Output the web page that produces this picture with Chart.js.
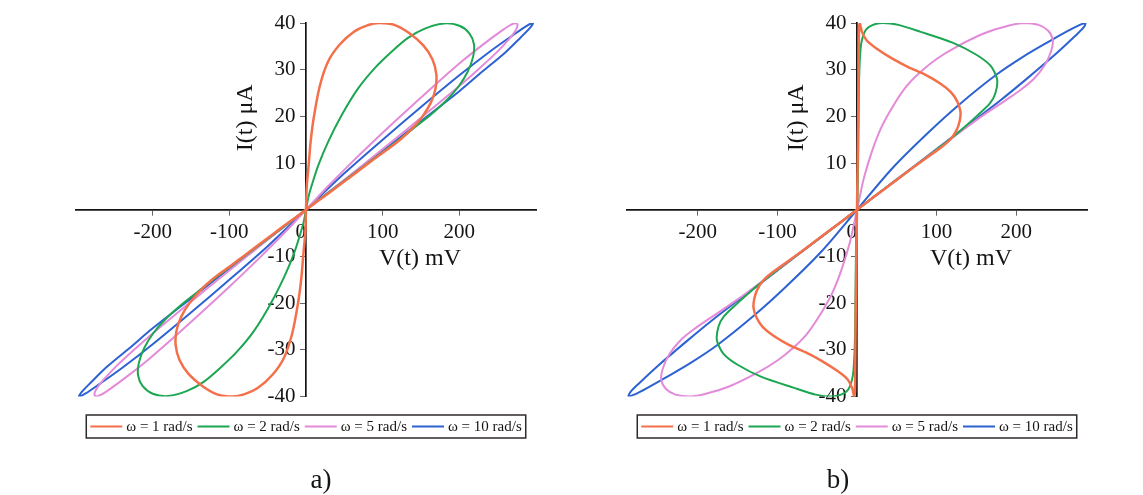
<!DOCTYPE html>
<html>
<head>
<meta charset="utf-8">
<script src="https://cdn.jsdelivr.net/npm/chart.js@4"></script>
<style>
  html, body { margin: 0; padding: 0; background: #fff; }
  #wrap { position: relative; width: 1143px; height: 495px; }
  .panel { position: absolute; top: 0; }
  #chartA { left: 0; }
  #chartB { left: 571px; }
</style>
</head>
<body>
<div id="wrap">
  <canvas id="chartA" class="panel" width="571" height="495"></canvas>
  <canvas id="chartB" class="panel" width="572" height="495"></canvas>
</div>
<script>
// legend entries and line colours, shared by both panels
const seriesLabels = ['ω = 1 rad/s', 'ω = 2 rad/s', 'ω = 5 rad/s', 'ω = 10 rad/s'];
const seriesColors = ['#f3704a', '#1ca652', '#e38ad9', '#2d62d2'];
const seriesWidths = [2.5, 2, 2, 2];

const xTicks = [-200, -100, 0, 100, 200];
const yTicks = [-40, -30, -20, -10, 10, 20, 30, 40];

// panel a) — [V mV, I µA], first-quadrant lobe then third-quadrant lobe
const aW1Pos = [[0,0],[1,5],[3.5,9.6],[6,14.5],[10,19.6],[18,26.5],[29,31.8],[44,35.4],[63,38.2],[80,39.5],[96,40],[115,39.6],[134,37.9],[153,35.2],[165,32.2],[170,29],[169,26],[163,23],[152,20],[138,17.3],[122,14.9],[105,12.8],[85,10.4],[60,7.3],[30,3.6],[0,0]];
const aW1Neg = [[-30,-3.6],[-60,-7.3],[-85,-10.4],[-105,-12.8],[-122,-14.9],[-138,-17.3],[-152,-20],[-163,-23],[-169,-26],[-170,-29],[-165,-32.2],[-153,-35.2],[-134,-37.9],[-115,-39.6],[-96,-40],[-80,-39.5],[-63,-38.2],[-44,-35.4],[-29,-31.8],[-18,-26.5],[-10,-19.6],[-6,-14.5],[-3.5,-9.6],[-1,-5],[0,0]];

const aW2Pos = [[0,0],[3,2.6],[8,5.5],[16,9.5],[29,14.6],[47,20.4],[68,26],[90,30.4],[112,33.9],[133,36.8],[155,38.8],[180,39.9],[200,39.4],[213,37.8],[219,35.5],[218,32.8],[211,29.6],[199,26.4],[183,23.4],[163,20.4],[140,17.4],[115,14.2],[88,10.9],[58,7.2],[28,3.5],[0,0]];
const aW2Neg = [[-28,-3.5],[-58,-7.2],[-88,-10.9],[-115,-14.2],[-140,-17.4],[-163,-20.4],[-183,-23.4],[-199,-26.4],[-211,-29.6],[-218,-32.8],[-219,-35.5],[-213,-37.8],[-200,-39.4],[-180,-39.9],[-155,-38.8],[-133,-36.8],[-112,-33.9],[-90,-30.4],[-68,-26],[-47,-20.4],[-29,-14.6],[-16,-9.5],[-8,-5.5],[-3,-2.6],[0,0]];

const aW5Pos = [[0,0],[25,4.4],[60,10.2],[100,16.5],[135,21.8],[170,27],[205,32],[235,35.9],[255,38.3],[267,39.6],[274,40],[276,39.5],[273,38.3],[264,36.4],[248,33.6],[225,30.1],[200,26.5],[150,19.7],[100,13],[50,6.4],[0,0]];
const aW5Neg = [[-50,-6.4],[-100,-13],[-150,-19.7],[-200,-26.5],[-225,-30.1],[-248,-33.6],[-264,-36.4],[-273,-38.3],[-276,-39.5],[-274,-40],[-267,-39.6],[-255,-38.3],[-235,-35.9],[-205,-32],[-170,-27],[-135,-21.8],[-100,-16.5],[-60,-10.2],[-25,-4.4],[0,0]];

const aW10Pos = [[0,0],[50,7.8],[100,15],[150,22],[200,28.8],[240,33.9],[270,37.4],[288,39.4],[296,40],[293,39.1],[280,36.9],[260,33.7],[230,29.6],[200,25.4],[150,19],[100,12.6],[50,6.3],[0,0]];
const aW10Neg = [[-50,-6.3],[-100,-12.6],[-150,-19],[-200,-25.4],[-230,-29.6],[-260,-33.7],[-280,-36.9],[-293,-39.1],[-296,-40],[-288,-39.4],[-270,-37.4],[-240,-33.9],[-200,-28.8],[-150,-22],[-100,-15],[-50,-7.8],[0,0]];

// panel b)
const bW1Pos = [[0,0],[0.8,10],[1.5,20],[2,30],[2.3,36],[2.6,39],[3.5,40],[6,38.2],[12,36.3],[24,34.6],[45,32.3],[65,30.5],[85,29],[105,27],[118,25.2],[126,23.2],[130,21],[129,19],[125,17],[117,15],[106,13.4],[92,11.7],[70,9],[45,5.8],[20,2.6],[0,0]];
const bW1Neg = [[-20,-2.6],[-45,-5.8],[-70,-9],[-92,-11.7],[-106,-13.4],[-117,-15],[-125,-17],[-129,-19],[-130,-21],[-126,-23.2],[-118,-25.2],[-105,-27],[-85,-29],[-65,-30.5],[-45,-32.3],[-24,-34.6],[-12,-36.3],[-6,-38.2],[-3.5,-40],[-2.6,-39],[-2.3,-36],[-2,-30],[-1.5,-20],[-0.8,-10],[0,0]];

const bW2Pos = [[0,0],[1,5],[1.5,12],[2,20],[2.5,27],[3.5,32],[5.5,35.8],[11,38.5],[20,39.6],[32,40],[52,39.6],[80,38.1],[120,35.8],[150,33.2],[168,30.8],[176,28],[174,25],[167,22.8],[150,20],[133,17.4],[117,15.1],[100,12.9],[60,7.7],[30,3.9],[0,0]];
const bW2Neg = [[-30,-3.9],[-60,-7.7],[-100,-12.9],[-117,-15.1],[-133,-17.4],[-150,-20],[-167,-22.8],[-174,-25],[-176,-28],[-168,-30.8],[-150,-33.2],[-120,-35.8],[-80,-38.1],[-52,-39.6],[-32,-40],[-20,-39.6],[-11,-38.5],[-5.5,-35.8],[-3.5,-32],[-2.5,-27],[-2,-20],[-1.5,-12],[-1,-5],[0,0]];

const bW5Pos = [[0,0],[4,3.2],[9,7],[19,12.6],[31,17.8],[46,22.4],[62,26.4],[79,29.4],[100,32.3],[125,34.9],[160,37.8],[190,39.4],[210,40],[228,39.6],[240,38.4],[246,36.4],[244,34],[236,31],[222,28],[205,25.6],[188,23.6],[150,19.2],[100,12.9],[50,6.4],[0,0]];
const bW5Neg = [[-50,-6.4],[-100,-12.9],[-150,-19.2],[-188,-23.6],[-205,-25.6],[-222,-28],[-236,-31],[-244,-34],[-246,-36.4],[-240,-38.4],[-228,-39.6],[-210,-40],[-190,-39.4],[-160,-37.8],[-125,-34.9],[-100,-32.3],[-79,-29.4],[-62,-26.4],[-46,-22.4],[-31,-17.8],[-19,-12.6],[-9,-7],[-4,-3.2],[0,0]];

const bW10Pos = [[0,0],[45,9],[90,16.6],[129,22.6],[175,28.9],[210,32.9],[240,35.9],[265,38.3],[280,39.6],[287,40],[285,39.1],[274,37.2],[250,33.4],[215,28.3],[180,23.4],[140,18.2],[100,13],[50,6.5],[0,0]];
const bW10Neg = [[-50,-6.5],[-100,-13],[-140,-18.2],[-180,-23.4],[-215,-28.3],[-250,-33.4],[-274,-37.2],[-285,-39.1],[-287,-40],[-280,-39.6],[-265,-38.3],[-240,-35.9],[-210,-32.9],[-175,-28.9],[-129,-22.6],[-90,-16.6],[-45,-9],[0,0]];

const SERIF = '"Liberation Serif", "Times New Roman", serif';
const INK = '#161413';

const toPoints = (pos, neg) => pos.concat(neg).map(([x, y]) => ({ x, y }));

function makeDatasets(loops, tensions) {
  return loops.map(([pos, neg], i) => ({
    label: seriesLabels[i],
    data: toPoints(pos, neg),
    showLine: true,
    borderColor: seriesColors[i],
    backgroundColor: seriesColors[i],
    borderWidth: seriesWidths[i],
    pointRadius: 0,
    tension: tensions[i],
    fill: false
  }));
}

// axis titles, boxed legend and the panel tag
const frame = {
  id: 'frame',
  afterDraw(chart, args, opts) {
    const { ctx, scales: { x, y } } = chart;
    const x0 = x.getPixelForValue(0);
    const y0 = y.getPixelForValue(0);
    ctx.save();
    ctx.fillStyle = INK;
    ctx.textAlign = 'center';
    ctx.textBaseline = 'middle';
    ctx.font = '24px ' + SERIF;
    ctx.fillText('V(t) mV', x0 + 114, y0 + 49);
    ctx.save();
    ctx.translate(x0 - 60, y0 - 92);
    ctx.rotate(-Math.PI / 2);
    ctx.fillText('I(t) μA', 0, 0);
    ctx.restore();

    ctx.font = '15px ' + SERIF;
    const sets = chart.data.datasets;
    const swatch = 32, gapA = 4, gapB = 5, pad = 4, top = 415, h = 23;
    const widths = sets.map(d => ctx.measureText(d.label).width);
    const total = pad * 2 + widths.reduce((s, w) => s + swatch + gapA + w, 0) + gapB * (sets.length - 1);
    let lx = x0 - total / 2;
    ctx.strokeStyle = '#2f2a28';
    ctx.lineWidth = 1.5;
    ctx.strokeRect(lx, top, total, h);
    lx += pad;
    ctx.textAlign = 'left';
    sets.forEach((d, i) => {
      ctx.strokeStyle = d.borderColor;
      ctx.lineWidth = 2;
      ctx.beginPath();
      ctx.moveTo(lx, top + h / 2);
      ctx.lineTo(lx + swatch, top + h / 2);
      ctx.stroke();
      lx += swatch + gapA;
      ctx.fillText(d.label, lx, top + h / 2 + 1);
      lx += widths[i] + gapB;
    });

    ctx.textAlign = 'center';
    ctx.font = '27px ' + SERIF;
    ctx.fillText(opts.tag, opts.tagX, 481);
    ctx.restore();
  }
};

const zeroPad = s => { s.paddingLeft = s.paddingRight = s.paddingTop = s.paddingBottom = 0; };

function makeChart(id, datasets, vMax, padding, tag, tagX) {
  const tickFont = { family: SERIF, size: 21 };
  return new Chart(document.getElementById(id), {
    type: 'scatter',
    data: { datasets },
    options: {
      responsive: false,
      animation: false,
      layout: { padding },
      plugins: { legend: { display: false }, tooltip: { enabled: false }, frame: { tag, tagX } },
      scales: {
        x: {
          type: 'linear', min: -vMax, max: vMax,
          position: { y: 0 },
          afterBuildTicks: s => { s.ticks = xTicks.map(value => ({ value })); },
          afterFit: zeroPad,
          grid: { drawOnChartArea: false, drawTicks: true, tickLength: 5, color: '#666' },
          border: { display: true, color: INK, width: 1.7 },
          ticks: { font: tickFont, color: INK, padding: 5, maxRotation: 0, autoSkip: false,
                   callback: v => (v === 0 ? '0\u2002' : String(v)) }
        },
        y: {
          type: 'linear', min: -40, max: 40,
          position: { x: 0 },
          afterBuildTicks: s => { s.ticks = yTicks.map(value => ({ value })); },
          afterFit: zeroPad,
          grid: { drawOnChartArea: false, drawTicks: true, tickLength: 5, color: '#666' },
          border: { display: true, color: INK, width: 1.7 },
          // trailing en space keeps the labels clear of the axis line
          ticks: { font: tickFont, color: INK, padding: 6, autoSkip: false,
                   callback: v => String(v) + '\u2002' }
        }
      }
    },
    plugins: [frame]
  });
}

makeChart('chartA',
  makeDatasets([[aW1Pos, aW1Neg], [aW2Pos, aW2Neg], [aW5Pos, aW5Neg], [aW10Pos, aW10Neg]], [0.3, 0.3, 0.3, 0.3]),
  300, { left: 76, right: 35, top: 23, bottom: 98.5 }, 'a)', 321);

makeChart('chartB',
  makeDatasets([[bW1Pos, bW1Neg], [bW2Pos, bW2Neg], [bW5Pos, bW5Neg], [bW10Pos, bW10Neg]], [0.2, 0.25, 0.3, 0.3]),
  289, { left: 56, right: 56, top: 23, bottom: 98.5 }, 'b)', 267);
</script>
</body>
</html>
